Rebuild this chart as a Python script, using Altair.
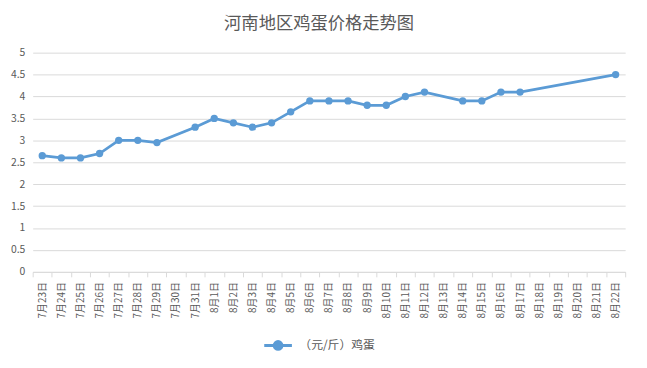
import altair as alt
import pandas as pd

dates = ["7月23日", "7月24日", "7月25日", "7月26日", "7月27日", "7月28日", "7月29日", "7月30日",
         "7月31日", "8月1日", "8月2日", "8月3日", "8月4日", "8月5日", "8月6日", "8月7日",
         "8月8日", "8月9日", "8月10日", "8月11日", "8月12日", "8月13日", "8月14日", "8月15日",
         "8月16日", "8月17日", "8月18日", "8月19日", "8月20日", "8月21日", "8月22日"]
prices = [2.65, 2.6, 2.6, 2.7, 3.0, 3.0, 2.95, None,
          3.3, 3.5, 3.4, 3.3, 3.4, 3.65, 3.9, 3.9,
          3.9, 3.8, 3.8, 4.0, 4.1, None, 3.9, 3.9,
          4.1, 4.1, None, None, None, None, 4.5]
series_name = "（元/斤）鸡蛋"

df = pd.DataFrame({"date": dates, "price": prices, "series": series_name})
df = df.dropna()

FONT = "Noto Sans CJK SC"
BLUE = "#5B9BD5"
GRID = "#D9D9D9"
TXT = "#595959"

x = alt.X("date:N", scale=alt.Scale(type="band", domain=dates, paddingInner=0, paddingOuter=0),
          bandPosition=0.5,
          axis=alt.Axis(title=None, labelAngle=270, labelAlign="right", labelBaseline="middle",
                        labelPadding=5, labelFontSize=10, labelColor=TXT, labelFont=FONT,
                        domainColor=GRID, ticks=True, tickBand="extent", tickSize=5,
                        tickColor=GRID, grid=False, labelOverlap=False))
y = alt.Y("price:Q", scale=alt.Scale(domain=[0, 5], nice=False),
          axis=alt.Axis(title=None, values=[0, 0.5, 1, 1.5, 2, 2.5, 3, 3.5, 4, 4.5, 5],
                        format="~g", domain=False, ticks=False, grid=True, gridColor=GRID,
                        labelColor=TXT, labelFont=FONT, labelFontSize=10.5, labelPadding=8))

legend_symbol = "M-1,0 L1,0 M-0.28,0 A0.28,0.28 0 1,1 0.28,0 A0.28,0.28 0 1,1 -0.28,0 Z"

chart = alt.Chart(df).mark_line(
    strokeWidth=2.75,
    point=alt.OverlayMarkDef(filled=True, size=55, color=BLUE, opacity=1)
).encode(
    x=x, y=y,
    color=alt.Color("series:N", scale=alt.Scale(range=[BLUE]),
                    legend=alt.Legend(title=None, orient="none", legendX=233, legendY=281,
                                      symbolType=legend_symbol, symbolSize=784,
                                      symbolStrokeWidth=3, symbolFillColor=BLUE,
                                      symbolStrokeColor=BLUE,
                                      labelFont=FONT, labelFontSize=12, labelColor=TXT,
                                      labelOffset=6))
).properties(
    width=600, height=222,
    title=alt.TitleParams("河南地区鸡蛋价格走势图", font=FONT, fontSize=17.5, fontWeight="normal",
                          color=TXT, offset=15, dx=-10),
    autosize=alt.AutoSizeParams(type="none"),
    padding={"left": 25, "top": 43, "right": 14, "bottom": 87},
).configure_view(stroke=None)

chart.save("out.html", embed_options={"renderer": "svg", "actions": False})
